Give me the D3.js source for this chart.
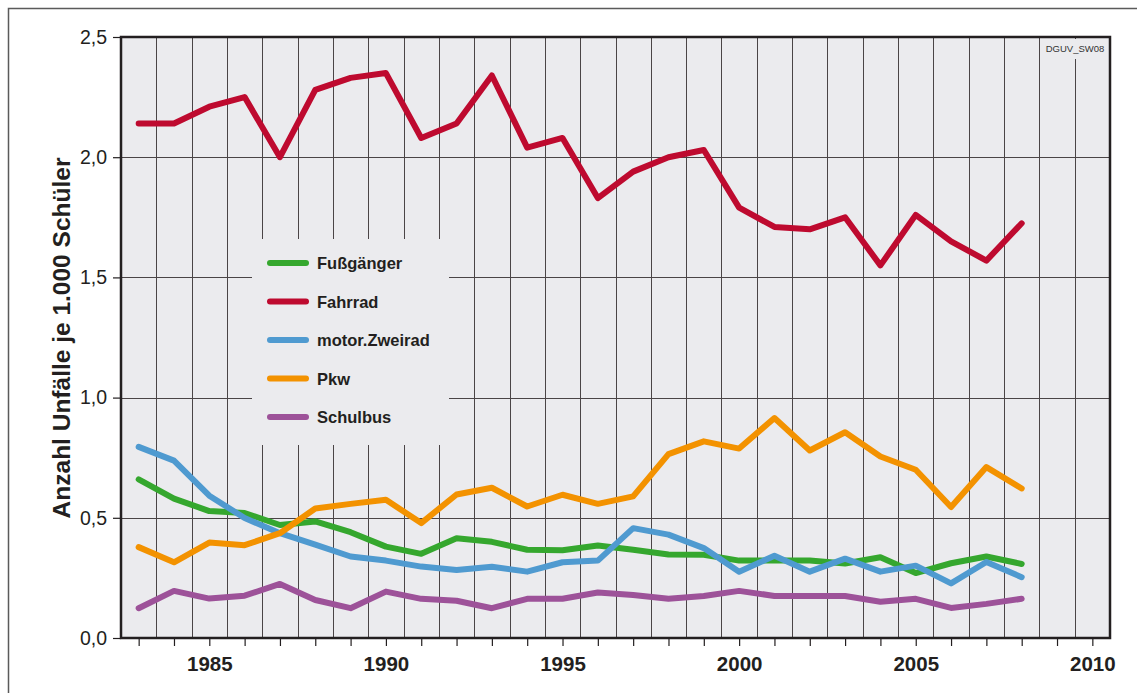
<!DOCTYPE html>
<html lang="de">
<head>
<meta charset="UTF-8">
<title>Schulwegunfälle je 1.000 Schüler</title>
<script src="https://d3js.org/d3.v7.min.js"></script>
<style>
    body { margin: 0; background: #fff; }
    svg { display: block; font-family: "Liberation Sans", Arial, sans-serif; }
    .grid line { stroke: #4a4446; stroke-width: 1; }
    .series { fill: none; stroke-width: 6; stroke-linejoin: round; stroke-linecap: round; }
</style>
</head>
<body>
<div id="chart"></div>
<script>
// Jahre und Werte (Unfälle je 1.000 Schüler)
const years = d3.range(1983, 2009);

const fussgaenger = [0.66, 0.58, 0.528, 0.52, 0.47, 0.485, 0.44, 0.38, 0.35, 0.415, 0.40, 0.367, 0.365, 0.385,
    0.367, 0.347, 0.346, 0.322, 0.322, 0.322, 0.31, 0.336, 0.27, 0.311, 0.339, 0.308];
const fahrrad = [2.14, 2.14, 2.21, 2.25, 2.00, 2.28, 2.33, 2.35, 2.08, 2.14, 2.34, 2.04, 2.08, 1.83,
    1.94, 2.00, 2.03, 1.79, 1.71, 1.70, 1.75, 1.55, 1.76, 1.65, 1.57, 1.725];
const zweirad = [0.795, 0.738, 0.592, 0.499, 0.436, 0.388, 0.339, 0.322, 0.297, 0.283, 0.296, 0.276, 0.315, 0.322,
    0.457, 0.43, 0.374, 0.276, 0.342, 0.276, 0.33, 0.276, 0.301, 0.227, 0.316, 0.253];
const pkw = [0.378, 0.315, 0.397, 0.386, 0.436, 0.539, 0.558, 0.575, 0.478, 0.597, 0.625, 0.547, 0.596, 0.558,
    0.589, 0.765, 0.818, 0.788, 0.915, 0.78, 0.856, 0.755, 0.70, 0.545, 0.711, 0.622];
const schulbus = [0.124, 0.196, 0.164, 0.176, 0.225, 0.158, 0.124, 0.193, 0.163, 0.155, 0.124, 0.163, 0.163, 0.189,
    0.179, 0.163, 0.175, 0.196, 0.175, 0.175, 0.175, 0.151, 0.163, 0.125, 0.142, 0.163];

const seriesNames = ['Fußgänger', 'Fahrrad', 'motor.Zweirad', 'Pkw', 'Schulbus'];
const seriesColors = ['#35a72e', '#be0a2f', '#4f9ad0', '#f39200', '#9d5299'];
const seriesValues = [fussgaenger, fahrrad, zweirad, pkw, schulbus];

const yTicks = [0, 0.5, 1.0, 1.5, 2.0, 2.5];
const xLabelYears = [1985, 1990, 1995, 2000, 2005, 2010];

const width = 1137, height = 693;
const plotLeft = 121, plotRight = 1110, plotTop = 37, plotBottom = 638;

const svg = d3.select('#chart').append('svg')
    .attr('width', width)
    .attr('height', height);

// äußerer Rahmen (läuft rechts und unten aus dem Bild)
svg.append('rect')
    .attr('x', 8.5).attr('y', 8.5)
    .attr('width', 1150).attr('height', 720)
    .attr('fill', 'none')
    .attr('stroke', '#5a5a5a')
    .attr('stroke-width', 1.5);

const x = d3.scaleLinear().domain([1982.5, 2010.5]).range([plotLeft, plotRight]);
const y = d3.scaleLinear().domain([0, 2.5]).range([plotBottom, plotTop]);

// Hintergrund der Zeichenfläche
svg.append('rect')
    .attr('x', plotLeft).attr('y', plotTop)
    .attr('width', plotRight - plotLeft).attr('height', plotBottom - plotTop)
    .attr('fill', '#ebebee');

// Gitter: senkrecht zwischen den Jahren, waagerecht alle 0,5
const grid = svg.append('g').attr('class', 'grid');
grid.selectAll('line.v')
    .data(d3.range(1983.5, 2010.5, 1))
    .enter().append('line')
    .attr('class', 'v')
    .attr('x1', d => Math.round(x(d)) + 0.5).attr('x2', d => Math.round(x(d)) + 0.5)
    .attr('y1', plotTop).attr('y2', plotBottom);
grid.selectAll('line.h')
    .data(yTicks.slice(1, -1))
    .enter().append('line')
    .attr('class', 'h')
    .attr('x1', plotLeft).attr('x2', plotRight)
    .attr('y1', d => Math.round(y(d)) + 0.5).attr('y2', d => Math.round(y(d)) + 0.5);

// Kennung oben rechts
svg.append('rect')
    .attr('x', 1044).attr('y', plotTop + 2)
    .attr('width', 64).attr('height', 20)
    .attr('fill', '#ebebee');
svg.append('text')
    .attr('x', 1075).attr('y', 52)
    .attr('text-anchor', 'middle')
    .attr('font-size', 9.5)
    .attr('fill', '#333')
    .text('DGUV_SW08');

// Legendenkasten überdeckt das Gitter
const legend = svg.append('g');
legend.append('rect')
    .attr('x', 252).attr('y', 239)
    .attr('width', 197).attr('height', 206)
    .attr('fill', '#ebebee');

// Linien
const line = d3.line()
    .x((d, i) => x(years[i]))
    .y(d => y(d));

// Zeichenreihenfolge: Fahrrad zuletzt
const order = [0, 2, 3, 4, 1];
svg.append('g').selectAll('path')
    .data(order)
    .enter().append('path')
    .attr('class', 'series')
    .attr('stroke', i => seriesColors[i])
    .attr('d', i => line(seriesValues[i]));

// Legende
const item = legend.selectAll('g.item')
    .data(seriesNames)
    .enter().append('g')
    .attr('class', 'item')
    .attr('transform', (d, i) => `translate(0, ${263 + i * 38.5})`);
item.append('line')
    .attr('x1', 270).attr('x2', 306)
    .attr('y1', 0).attr('y2', 0)
    .attr('stroke', (d, i) => seriesColors[i])
    .attr('stroke-width', 6)
    .attr('stroke-linecap', 'round');
item.append('text')
    .attr('x', 317).attr('y', 6)
    .attr('font-size', 16.5)
    .attr('font-weight', 'bold')
    .attr('fill', '#231f20')
    .text(d => d);

// Achsen
const yAxis = d3.axisLeft(y)
    .tickValues(yTicks)
    .tickSize(8)
    .tickPadding(6)
    .tickFormat(d => d3.format('.1f')(d).replace('.', ','));
const gy = svg.append('g')
    .attr('transform', `translate(${plotLeft},0)`)
    .call(yAxis);
gy.select('.domain').remove();
gy.selectAll('.tick line').attr('stroke', '#231f20').attr('stroke-width', 1.2);
gy.selectAll('.tick text')
    .attr('font-size', 19.5)
    .attr('font-family', '"Liberation Sans", Arial, sans-serif')
    .attr('fill', '#231f20');

const xAxis = d3.axisBottom(x)
    .tickValues(years.concat([2009, 2010]))
    .tickSize(8)
    .tickPadding(10)
    .tickFormat(d => xLabelYears.includes(d) ? d : '');
const gx = svg.append('g')
    .attr('transform', `translate(0,${plotBottom})`)
    .call(xAxis);
gx.select('.domain').remove();
gx.selectAll('.tick line').attr('stroke', '#231f20').attr('stroke-width', 1.2);
gx.selectAll('.tick text')
    .attr('font-size', 20.5)
    .attr('font-weight', 'bold')
    .attr('font-family', '"Liberation Sans", Arial, sans-serif')
    .attr('fill', '#231f20');

// Rahmen der Zeichenfläche
svg.append('rect')
    .attr('x', plotLeft).attr('y', plotTop)
    .attr('width', plotRight - plotLeft).attr('height', plotBottom - plotTop)
    .attr('fill', 'none')
    .attr('stroke', '#231f20')
    .attr('stroke-width', 2.5);

// Achsentitel
svg.append('text')
    .attr('transform', 'translate(70, 338) rotate(-90)')
    .attr('text-anchor', 'middle')
    .attr('font-size', 24.5)
    .attr('font-weight', 'bold')
    .attr('fill', '#231f20')
    .text('Anzahl Unfälle je 1.000 Schüler');
</script>
</body>
</html>
